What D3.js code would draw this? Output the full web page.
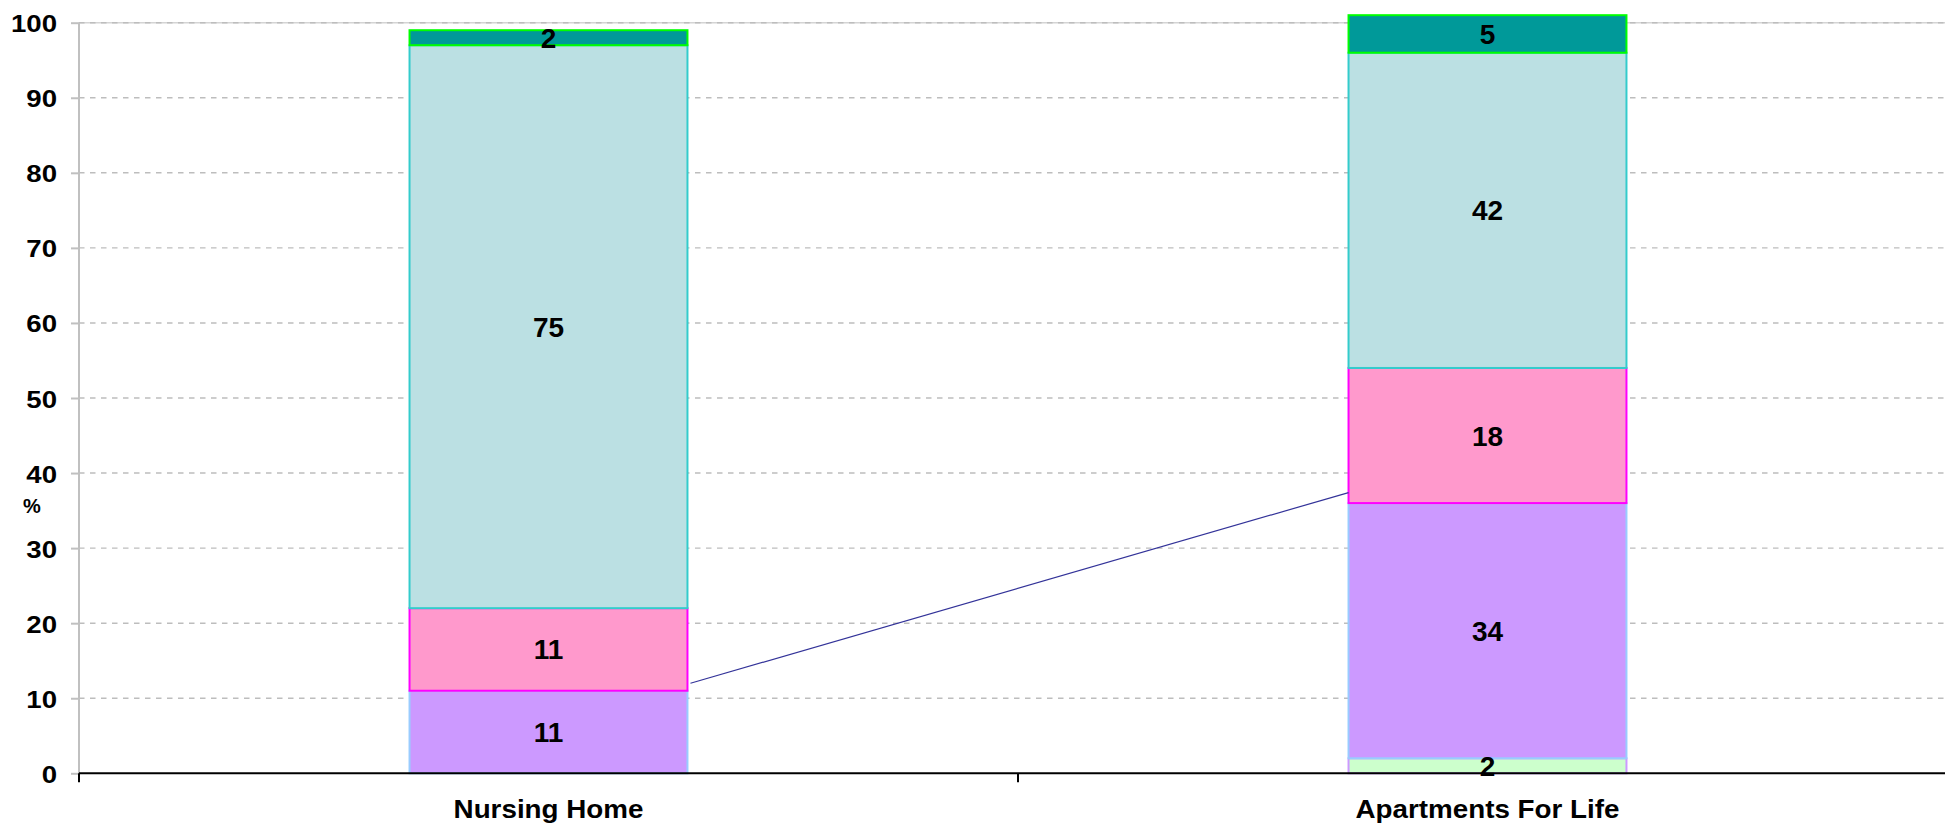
<!DOCTYPE html>
<html><head><meta charset="utf-8">
<script src="https://cdn.jsdelivr.net/npm/d3@7"></script>
<style>html,body{margin:0;padding:0;background:#fff;overflow:hidden}</style>
</head><body>
<svg id="c" width="1945" height="825"></svg>
<script>
const categories = ["Nursing Home", "Apartments For Life"];
const seriesNames = ["s1", "s2", "s3", "s4", "s5"];
const s1 = [0, 2];
const s2 = [11, 34];
const s3 = [11, 18];
const s4 = [75, 42];
const s5 = [2, 5];
const fills = ["#CCFFCC", "#CC99FF", "#FF99CC", "#BBE0E3", "#009999"];
const strokes = ["#CC99FF", "#99CCFF", "#FF00FF", "#33CCCC", "#00FF00"];
const yTicks = [0, 10, 20, 30, 40, 50, 60, 70, 80, 90, 100];
const connector = [12, 37.4];

const seriesValues = [s1, s2, s3, s4, s5];
const rows = categories.map((c, i) => {
  const r = {cat: c};
  seriesNames.forEach((s, k) => r[s] = seriesValues[k][i]);
  return r;
});
const stacked = d3.stack().keys(seriesNames)(rows);

const svg = d3.select("#c");
const x = d3.scaleBand().domain(categories).range([79, 1957]).paddingInner(0.704).paddingOuter(0.352);
const y = d3.scaleLinear().domain([0, 100]).range([773.3, 22.7]);
const font = "'Liberation Sans', Arial, sans-serif";

// gridlines
svg.append("line").attr("x1", 79).attr("x2", 1945).attr("y1", y(100)).attr("y2", y(100))
  .attr("stroke", "#d4d4d4").attr("stroke-width", 1.5);
svg.append("g").selectAll("line").data(yTicks.filter(t => t > 0)).join("line")
  .attr("x1", 79).attr("x2", 1945).attr("y1", d => y(d)).attr("y2", d => y(d))
  .attr("stroke", "#bdbdbd").attr("stroke-width", 1.4).attr("stroke-dasharray", "5.5,5.5");

// y axis
const yAxis = svg.append("g").attr("transform", "translate(79,0)")
  .call(d3.axisLeft(y).tickValues(yTicks).tickSize(8).tickFormat(d3.format("d")));
yAxis.select(".domain").attr("stroke", "#c0c0c0").attr("stroke-width", 2)
  .attr("d", `M0,${y(100)}V${y(0)+8}`);
yAxis.selectAll(".tick line").attr("stroke", "#c0c0c0").attr("stroke-width", 2);
yAxis.selectAll(".tick text").attr("font-family", font).attr("font-weight", "bold")
  .attr("font-size", 23).attr("fill", "#000").attr("dy", null)
  .attr("x", null).attr("text-anchor", "end")
  .attr("transform", "translate(-22,9) scale(1.2,1)");

svg.append("text").attr("x", 32).attr("y", 513).attr("text-anchor", "middle")
  .attr("font-family", font).attr("font-weight", "bold").attr("font-size", 20).text("%");

// bars
const layers = svg.append("g").selectAll("g").data(stacked).join("g")
  .attr("fill", (d, i) => fills[i]).attr("stroke", (d, i) => strokes[i]).attr("stroke-width", 2);
layers.selectAll("rect").data(d => d.filter(p => p[1] - p[0] > 0)).join("rect")
  .attr("x", d => x(d.data.cat)).attr("width", x.bandwidth())
  .attr("y", d => y(d[1])).attr("height", d => y(d[0]) - y(d[1]));

// connector line
svg.append("line")
  .attr("x1", x(categories[0]) + x.bandwidth() + 3).attr("y1", y(connector[0]))
  .attr("x2", x(categories[1])).attr("y2", y(connector[1]))
  .attr("stroke", "#333399").attr("stroke-width", 1.2);

// x axis
svg.append("line").attr("x1", 79).attr("x2", 1945).attr("y1", y(0)).attr("y2", y(0))
  .attr("stroke", "#000").attr("stroke-width", 2);
const bounds = [x.range()[0], x.range()[0] + x.step()];
svg.append("g").selectAll("line").data(bounds).join("line")
  .attr("x1", d => d).attr("x2", d => d).attr("y1", y(0)).attr("y2", y(0) + 9)
  .attr("stroke", "#000").attr("stroke-width", 2);
svg.append("g").selectAll("text").data(categories).join("text")
  .attr("text-anchor", "middle").attr("font-family", font).attr("font-weight", "bold")
  .attr("font-size", 25.5)
  .attr("transform", d => `translate(${x(d) + x.bandwidth()/2},818) scale(1.09,1)`)
  .text(d => d);

// data labels
const labels = [];
stacked.forEach(layer => layer.forEach(p => {
  if (p[1] - p[0] > 0) labels.push({cat: p.data.cat, mid: (p[0] + p[1]) / 2, v: p[1] - p[0]});
}));
svg.append("g").selectAll("text").data(labels).join("text")
  .attr("x", d => x(d.cat) + x.bandwidth()/2).attr("y", d => y(d.mid) + 10)
  .attr("text-anchor", "middle").attr("font-family", font).attr("font-weight", "bold")
  .attr("font-size", 28).attr("fill", "#000").text(d => d.v);
</script>
</body></html>
